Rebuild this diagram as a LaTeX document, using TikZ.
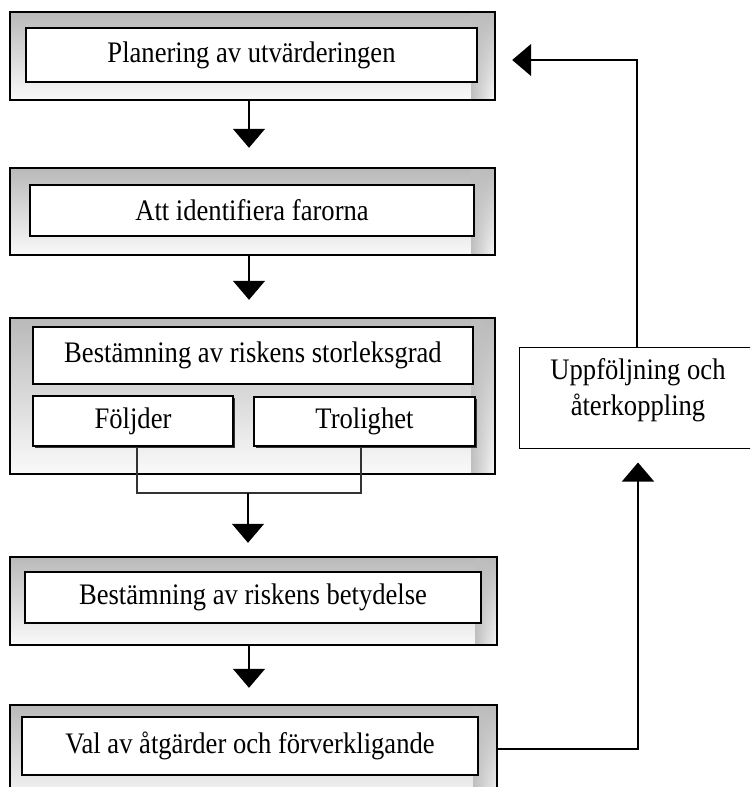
\documentclass[tikz,border=0pt]{standalone}
\usepackage{fontspec}
\setmainfont{Liberation Serif}
\usetikzlibrary{arrows.meta,shadows,fadings}
\newcommand\vs[1]{\scalebox{1}[1.12]{#1}}
\tikzset{
  outerbox/.style={top color=gray!55, bottom color=gray!4, minimum width=#1, inner sep=0pt},
  outerline/.style={draw=black, line width=2.4pt},
  rstrip/.style={fill=gray!50, path fading=east},
  innerbox/.style={draw=black, line width=1.1pt, fill=white, inner sep=0pt,
    drop shadow={shadow xshift=1pt, shadow yshift=-1pt, fill=gray!70, opacity=1}},
  subbox/.style={draw=black, line width=1.1pt, fill=white, inner sep=0pt,
    drop shadow={shadow xshift=2pt, shadow yshift=-2pt, fill=black!80, opacity=1}},
  plainbox/.style={draw=black, line width=1pt, fill=white, inner sep=0pt},
  arr/.style={draw=black, line width=1.3pt, -{Triangle[width=32pt,length=19pt]}},
  con/.style={draw=black!80, line width=1.3pt},
  lbl/.style={font=\fontsize{26.6}{32}\selectfont}
}
\begin{document}
\begin{tikzpicture}[x=1pt,y=-1pt]
\useasboundingbox (0,0) rectangle (750,787);
\clip (0,0) rectangle (750,787);
% box 1
\node[outerbox=485pt, minimum height=88pt] (o1) at (252.5,56) {};
\fill[rstrip] ([xshift=-24pt]o1.north east) rectangle (o1.south east);
\draw[outerline] (o1.north west) rectangle (o1.south east);
\node[innerbox, minimum width=451pt, minimum height=54pt, lbl] (i1) at (251.5,55) {\vs{Planering av utvärderingen}};
% box 2
\node[outerbox=485pt, minimum height=87pt] (o2) at (252.5,211.5) {};
\fill[rstrip] ([xshift=-24pt]o2.north east) rectangle (o2.south east);
\draw[outerline] (o2.north west) rectangle (o2.south east);
\node[innerbox, minimum width=444pt, minimum height=51pt, lbl] (i2) at (252,210.5) {\vs{Att identifiera farorna}};
% box 3
\node[outerbox=485pt, minimum height=156pt] (o3) at (252.5,396) {};
\fill[rstrip] ([xshift=-24pt]o3.north east) rectangle (o3.south east);
\draw[outerline] (o3.north west) rectangle (o3.south east);
\node[innerbox, minimum width=440pt, minimum height=57pt, lbl] (i3) at (253,355.5) {\vs{Bestämning av riskens storleksgrad}};
\node[subbox, minimum width=200pt, minimum height=50pt, lbl] (f) at (133,421) {\vs{Följder}};
\node[subbox, minimum width=221pt, minimum height=49pt, lbl] (t) at (364.5,421.5) {\vs{Trolighet}};
% box 4
\node[outerbox=487pt, minimum height=88pt] (o4) at (253.5,601) {};
\fill[rstrip] ([xshift=-22pt]o4.north east) rectangle (o4.south east);
\draw[outerline] (o4.north west) rectangle (o4.south east);
\node[innerbox, minimum width=456pt, minimum height=51pt, lbl] (i4) at (253,597.5) {\vs{Bestämning av riskens betydelse}};
% box 5
\node[outerbox=487pt, minimum height=100pt] (o5) at (253.5,755) {};
\fill[rstrip] ([xshift=-24pt]o5.north east) rectangle (o5.south east);
\draw[outerline] (o5.north west) rectangle (o5.south east);
\node[innerbox, minimum width=456pt, minimum height=58pt, lbl] (i5) at (250,746) {\vs{Val av åtgärder och förverkligande}};
% feedback box
\node[plainbox, minimum width=241pt, minimum height=101pt, lbl] (u) at (639.5,397.5) {};
\node[lbl, anchor=center] (ut) at (638,390) {\vs{\begin{tabular}{@{}c@{}}Uppföljning och\\återkoppling\end{tabular}}};
% down arrows
\draw[arr, shorten >=20pt] ([xshift=-3.5pt]o1.south) -- ([xshift=-3.5pt]o2.north);
\draw[arr, shorten >=18pt] ([xshift=-3.5pt]o2.south) -- ([xshift=-3.5pt]o3.north);
\coordinate (j) at (248,493);
\draw[con] ([xshift=4pt]f.south) |- (j) -| ([xshift=-3.5pt]t.south);
\draw[arr, shorten >=14pt] (j) -- (o4.north -| j);
\draw[arr, shorten >=17pt] ([xshift=-4.5pt]o4.south) -- ([xshift=-4.5pt]o5.north);
% feedback
\coordinate (fb) at (638,749);
\draw[arr, shorten >=14pt] (o5.east |- fb) -- (fb) -- (u.south -| fb);
\coordinate (tp) at (637,60);
\draw[arr, shorten >=17pt] (u.north -| tp) -- (tp) -- (o1.east |- tp);
\end{tikzpicture}
\end{document}
